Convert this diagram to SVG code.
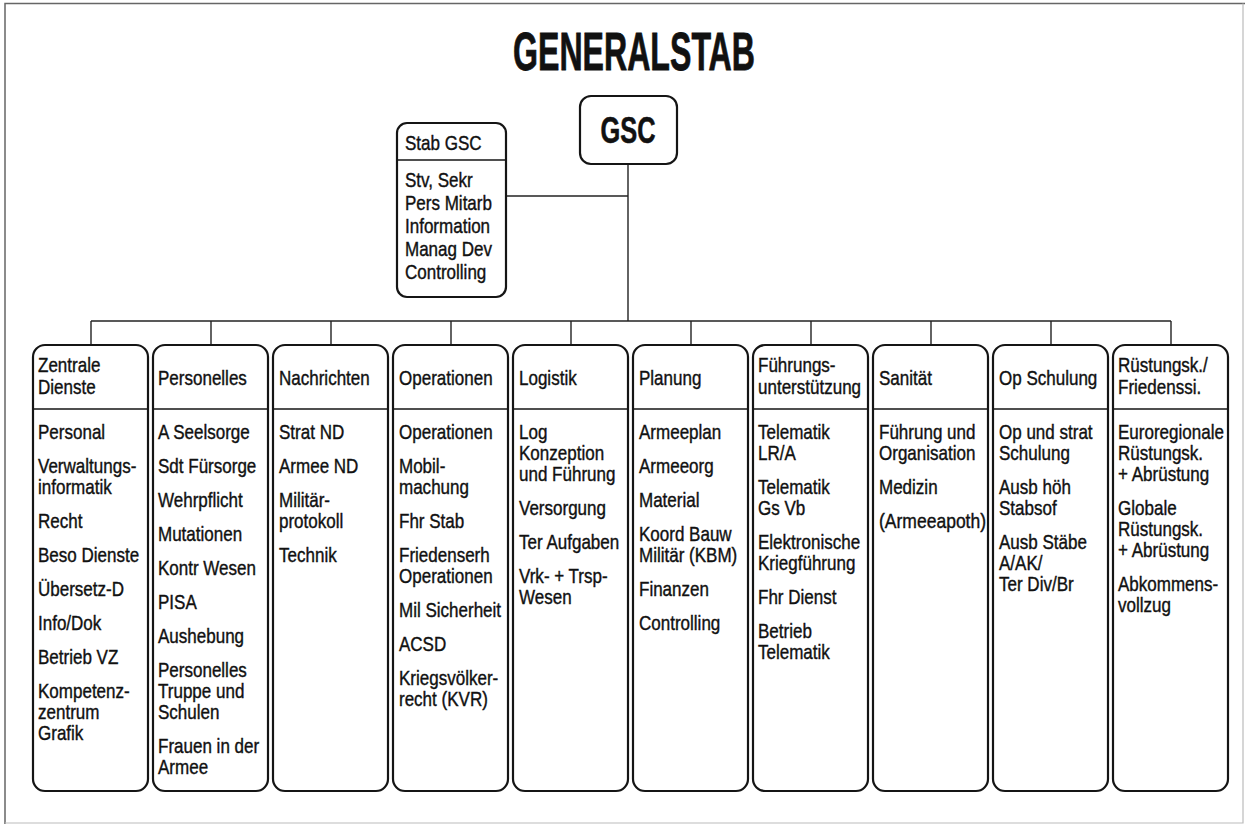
<svg xmlns="http://www.w3.org/2000/svg" width="1245" height="826" viewBox="0 0 1245 826">
<style>
.frame{fill:none;stroke:#666;stroke-width:1.5}
.frame2{fill:none;stroke:#bbb;stroke-width:1.2}
.box{fill:#fff;stroke:#151515;stroke-width:2.2}
.div{stroke:#151515;stroke-width:1.3}
.con{stroke:#222;stroke-width:1.4;fill:none}
.t{font-family:"Liberation Sans",Arial,sans-serif;font-size:20.5px;fill:#111;stroke:#111;stroke-width:0.4}
.title{font-family:"Liberation Sans",Arial,sans-serif;font-weight:bold;fill:#111;stroke:#111;stroke-width:0.8}
</style>
<polyline class="frame" points="5,824 5,3.5 1245,3.5"/>
<polyline class="frame2" points="5,823 1243,823 1243,3.5"/>
<text class="title" x="634" y="70" font-size="53" text-anchor="middle" textLength="242" lengthAdjust="spacingAndGlyphs">GENERALSTAB</text>

<g id="connectors">
<line class="con" x1="628" y1="164" x2="628" y2="321"/>
<line class="con" x1="506" y1="196" x2="628" y2="196"/>
<line class="con" x1="91" y1="321" x2="1171" y2="321"/>
<line class="con" x1="91" y1="321" x2="91" y2="345"/>
<line class="con" x1="211" y1="321" x2="211" y2="345"/>
<line class="con" x1="331" y1="321" x2="331" y2="345"/>
<line class="con" x1="451" y1="321" x2="451" y2="345"/>
<line class="con" x1="571" y1="321" x2="571" y2="345"/>
<line class="con" x1="691" y1="321" x2="691" y2="345"/>
<line class="con" x1="811" y1="321" x2="811" y2="345"/>
<line class="con" x1="931" y1="321" x2="931" y2="345"/>
<line class="con" x1="1051" y1="321" x2="1051" y2="345"/>
<line class="con" x1="1171" y1="321" x2="1171" y2="345"/>
</g>

<g id="gsc">
<rect class="box" x="580" y="96" width="97" height="68" rx="11"/>
<text class="title" x="628" y="143" font-size="37" text-anchor="middle" textLength="55" lengthAdjust="spacingAndGlyphs" style="stroke-width:0.6">GSC</text>
</g>

<g id="stab-gsc">
<rect class="box" x="397" y="123" width="109" height="174" rx="10"/>
<line class="div" x1="397" y1="160" x2="506" y2="160"/>
<g transform="translate(405,0) scale(0.83,1)">
<text class="t"><tspan x="0" y="150">Stab GSC</tspan></text>
<text class="t"><tspan x="0" y="187">Stv, Sekr</tspan><tspan x="0" y="210">Pers Mitarb</tspan><tspan x="0" y="233">Information</tspan><tspan x="0" y="256">Manag Dev</tspan><tspan x="0" y="279">Controlling</tspan></text>
</g>
</g>

<g id="zentrale-dienste">
<rect class="box" x="33" y="345" width="115" height="446" rx="12"/>
<line class="div" x1="33" y1="409" x2="148" y2="409"/>
<g transform="translate(38,0) scale(0.83,1)">
<text class="t"><tspan x="0" y="372">Zentrale</tspan><tspan x="0" y="394">Dienste</tspan></text>
<text class="t"><tspan x="0" y="439">Personal</tspan><tspan x="0" y="473">Verwaltungs-</tspan><tspan x="0" y="494">informatik</tspan><tspan x="0" y="528">Recht</tspan><tspan x="0" y="562">Beso Dienste</tspan><tspan x="0" y="596">Übersetz-D</tspan><tspan x="0" y="630">Info/Dok</tspan><tspan x="0" y="664">Betrieb VZ</tspan><tspan x="0" y="698">Kompetenz-</tspan><tspan x="0" y="719">zentrum</tspan><tspan x="0" y="740">Grafik</tspan></text>
</g>
</g>

<g id="personelles">
<rect class="box" x="153" y="345" width="115" height="446" rx="12"/>
<line class="div" x1="153" y1="409" x2="268" y2="409"/>
<g transform="translate(158,0) scale(0.83,1)">
<text class="t"><tspan x="0" y="385">Personelles</tspan></text>
<text class="t"><tspan x="0" y="439">A Seelsorge</tspan><tspan x="0" y="473">Sdt Fürsorge</tspan><tspan x="0" y="507">Wehrpflicht</tspan><tspan x="0" y="541">Mutationen</tspan><tspan x="0" y="575">Kontr Wesen</tspan><tspan x="0" y="609">PISA</tspan><tspan x="0" y="643">Aushebung</tspan><tspan x="0" y="677">Personelles</tspan><tspan x="0" y="698">Truppe und</tspan><tspan x="0" y="719">Schulen</tspan><tspan x="0" y="753">Frauen in der</tspan><tspan x="0" y="774">Armee</tspan></text>
</g>
</g>

<g id="nachrichten">
<rect class="box" x="273" y="345" width="115" height="446" rx="12"/>
<line class="div" x1="273" y1="409" x2="388" y2="409"/>
<g transform="translate(279,0) scale(0.83,1)">
<text class="t"><tspan x="0" y="385">Nachrichten</tspan></text>
<text class="t"><tspan x="0" y="439">Strat ND</tspan><tspan x="0" y="473">Armee ND</tspan><tspan x="0" y="507">Militär-</tspan><tspan x="0" y="528">protokoll</tspan><tspan x="0" y="562">Technik</tspan></text>
</g>
</g>

<g id="operationen">
<rect class="box" x="393" y="345" width="115" height="446" rx="12"/>
<line class="div" x1="393" y1="409" x2="508" y2="409"/>
<g transform="translate(399,0) scale(0.83,1)">
<text class="t"><tspan x="0" y="385">Operationen</tspan></text>
<text class="t"><tspan x="0" y="439">Operationen</tspan><tspan x="0" y="473">Mobil-</tspan><tspan x="0" y="494">machung</tspan><tspan x="0" y="528">Fhr Stab</tspan><tspan x="0" y="562">Friedenserh</tspan><tspan x="0" y="583">Operationen</tspan><tspan x="0" y="617">Mil Sicherheit</tspan><tspan x="0" y="651">ACSD</tspan><tspan x="0" y="685">Kriegsvölker-</tspan><tspan x="0" y="706">recht (KVR)</tspan></text>
</g>
</g>

<g id="logistik">
<rect class="box" x="513" y="345" width="115" height="446" rx="12"/>
<line class="div" x1="513" y1="409" x2="628" y2="409"/>
<g transform="translate(519,0) scale(0.83,1)">
<text class="t"><tspan x="0" y="385">Logistik</tspan></text>
<text class="t"><tspan x="0" y="439">Log</tspan><tspan x="0" y="460">Konzeption</tspan><tspan x="0" y="481">und Führung</tspan><tspan x="0" y="515">Versorgung</tspan><tspan x="0" y="549">Ter Aufgaben</tspan><tspan x="0" y="583">Vrk- + Trsp-</tspan><tspan x="0" y="604">Wesen</tspan></text>
</g>
</g>

<g id="planung">
<rect class="box" x="633" y="345" width="115" height="446" rx="12"/>
<line class="div" x1="633" y1="409" x2="748" y2="409"/>
<g transform="translate(639,0) scale(0.83,1)">
<text class="t"><tspan x="0" y="385">Planung</tspan></text>
<text class="t"><tspan x="0" y="439">Armeeplan</tspan><tspan x="0" y="473">Armeeorg</tspan><tspan x="0" y="507">Material</tspan><tspan x="0" y="541">Koord Bauw</tspan><tspan x="0" y="562">Militär (KBM)</tspan><tspan x="0" y="596">Finanzen</tspan><tspan x="0" y="630">Controlling</tspan></text>
</g>
</g>

<g id="fuehrungsunterstuetzung">
<rect class="box" x="753" y="345" width="115" height="446" rx="12"/>
<line class="div" x1="753" y1="409" x2="868" y2="409"/>
<g transform="translate(758,0) scale(0.83,1)">
<text class="t"><tspan x="0" y="372">Führungs-</tspan><tspan x="0" y="394">unterstützung</tspan></text>
<text class="t"><tspan x="0" y="439">Telematik</tspan><tspan x="0" y="460">LR/A</tspan><tspan x="0" y="494">Telematik</tspan><tspan x="0" y="515">Gs Vb</tspan><tspan x="0" y="549">Elektronische</tspan><tspan x="0" y="570">Kriegführung</tspan><tspan x="0" y="604">Fhr Dienst</tspan><tspan x="0" y="638">Betrieb</tspan><tspan x="0" y="659">Telematik</tspan></text>
</g>
</g>

<g id="sanitaet">
<rect class="box" x="873" y="345" width="115" height="446" rx="12"/>
<line class="div" x1="873" y1="409" x2="988" y2="409"/>
<g transform="translate(879,0) scale(0.83,1)">
<text class="t"><tspan x="0" y="385">Sanität</tspan></text>
<text class="t"><tspan x="0" y="439">Führung und</tspan><tspan x="0" y="460">Organisation</tspan><tspan x="0" y="494">Medizin</tspan></text>
<text class="t" x="0" y="528" textLength="129" lengthAdjust="spacingAndGlyphs">(Armeeapoth)</text>
</g>
</g>

<g id="op-schulung">
<rect class="box" x="993" y="345" width="115" height="446" rx="12"/>
<line class="div" x1="993" y1="409" x2="1108" y2="409"/>
<g transform="translate(999,0) scale(0.83,1)">
<text class="t"><tspan x="0" y="385">Op Schulung</tspan></text>
<text class="t"><tspan x="0" y="439">Op und strat</tspan><tspan x="0" y="460">Schulung</tspan><tspan x="0" y="494">Ausb höh</tspan><tspan x="0" y="515">Stabsof</tspan><tspan x="0" y="549">Ausb Stäbe</tspan><tspan x="0" y="570">A/AK/</tspan><tspan x="0" y="591">Ter Div/Br</tspan></text>
</g>
</g>

<g id="ruestungskontrolle">
<rect class="box" x="1113" y="345" width="115" height="446" rx="12"/>
<line class="div" x1="1113" y1="409" x2="1228" y2="409"/>
<g transform="translate(1118,0) scale(0.83,1)">
<text class="t"><tspan x="0" y="372">Rüstungsk./</tspan><tspan x="0" y="394">Friedenssi.</tspan></text>
<text class="t"><tspan x="0" y="439">Euroregionale</tspan><tspan x="0" y="460">Rüstungsk.</tspan><tspan x="0" y="481">+ Abrüstung</tspan><tspan x="0" y="515">Globale</tspan><tspan x="0" y="536">Rüstungsk.</tspan><tspan x="0" y="557">+ Abrüstung</tspan><tspan x="0" y="591">Abkommens-</tspan><tspan x="0" y="612">vollzug</tspan></text>
</g>
</g>
</svg>
